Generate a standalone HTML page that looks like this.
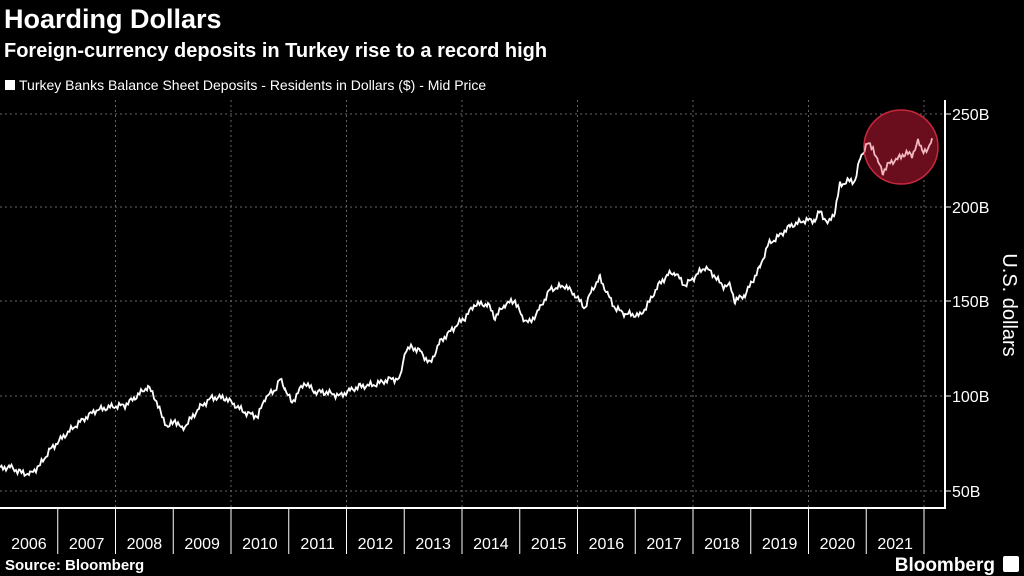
<!DOCTYPE html>
<html><head><meta charset="utf-8"><style>
body{margin:0;background:#000;width:1024px;height:576px;overflow:hidden;font-family:"Liberation Sans",sans-serif;color:#fff}
</style></head><body>
<svg id="s" width="1024" height="576" xmlns="http://www.w3.org/2000/svg" style="position:absolute;left:0;top:0">
<defs><clipPath id="cc"><circle cx="901" cy="147" r="37"/></clipPath></defs>
<text x="4" y="28" font-size="27" font-weight="bold" fill="#fff">Hoarding Dollars</text>
<text x="4" y="57" font-size="20" font-weight="bold" fill="#fff">Foreign-currency deposits in Turkey rise to a record high</text>
<rect x="5" y="80" width="10" height="10" fill="#fff"/>
<text x="19" y="90" font-size="14" fill="#fff">Turkey Banks Balance Sheet Deposits - Residents in Dollars ($) - Mid Price</text>
<g stroke="#666" stroke-width="1" stroke-dasharray="2,3">
<line x1="0" x2="945" y1="114" y2="114"/><line x1="0" x2="945" y1="207" y2="207"/>
<line x1="0" x2="945" y1="301" y2="301"/><line x1="0" x2="945" y1="396" y2="396"/>
<line x1="0" x2="945" y1="491" y2="491"/>
<g id="vg"></g>
</g>
<line x1="945" y1="100" x2="945" y2="508" stroke="#fff" stroke-width="2"/>
<line x1="0" y1="508" x2="946" y2="508" stroke="#fff" stroke-width="2"/>
<g id="tk" stroke="#fff" stroke-width="1"></g>
<g font-size="16" fill="#fff">
<text x="952" y="120">250B</text><text x="952" y="213">200B</text><text x="952" y="307">150B</text><text x="952" y="402">100B</text><text x="952" y="497">50B</text>
</g>
<g id="yl" font-size="16" fill="#fff" text-anchor="middle"></g>
<text transform="translate(1003,305) rotate(90)" font-size="20" fill="#fff" text-anchor="middle">U.S. dollars</text>
<text x="5" y="570" font-size="15" font-weight="bold" fill="#fff">Source: Bloomberg</text>
<text x="995" y="571" font-size="19" font-weight="bold" fill="#fff" text-anchor="end">Bloomberg</text>
<rect x="1003" y="556" width="16" height="16" rx="2" fill="#fff"/>
<polyline id="ln" fill="none" stroke="#fff" stroke-width="1.8"/>
<circle cx="901" cy="147" r="37" fill="#6a0d1c" stroke="#c8283d" stroke-width="1.5"/>
<polyline id="ln2" fill="none" stroke="#f2b8c0" stroke-width="1.8" clip-path="url(#cc)"/>
</svg>
<script>
var W=57.75,vg=document.getElementById('vg'),tk=document.getElementById('tk'),yl=document.getElementById('yl'),ns='http://www.w3.org/2000/svg';
function el(p,t,a){var e=document.createElementNS(ns,t);for(var k in a)e.setAttribute(k,a[k]);p.appendChild(e);return e;}
for(var k=1;k<=16;k++){var x=k*W;el(tk,'line',{x1:x,x2:x,y1:508,y2:554});if(k%2==0)el(vg,'line',{x1:x,x2:x,y1:100,y2:508});}
for(var k=0;k<16;k++){var t=el(yl,'text',{x:k*W+W/2,y:549});t.textContent=2006+k;}
[114,207,301,396,491].forEach(function(y){el(tk,'line',{x1:945,x2:951,y1:y,y2:y});});
var d=[0,62,10,63,20,60,30,59,40,64,50,72,65,80,80,87,95,93,110,95,125,96,135,100,148,106,155,100,162,90,168,84,175,88,182,83,190,88,200,95,212,100,225,100,235,96,245,92,258,90,265,100,275,104,280,110,285,105,292,97,298,103,305,108,315,103,325,103,340,101,350,104,360,106,375,107,390,110,400,110,405,125,412,127,420,125,430,118,440,130,455,138,465,143,475,150,488,150,495,143,505,150,515,152,522,143,530,140,540,148,550,158,565,160,575,155,585,148,592,158,600,164,608,155,615,148,625,145,640,144,648,150,658,160,668,166,675,167,685,160,695,165,705,170,715,165,722,160,730,160,735,152,745,155,752,162,760,170,768,182,780,187,790,192,805,195,815,195,820,200,828,193,835,200,840,214,848,216,855,216,860,228,867,236,873,234,878,226,883,221,890,226,898,228,905,231,912,230,918,237,922,233,928,232,932,239];
var pts=[];
for(var i=0;i<d.length-2;i+=2){var x0=d[i],v0=d[i+1],x1=d[i+2],v1=d[i+3];for(var x=x0;x<x1;x+=1.5){var f=(x-x0)/(x1-x0),v=v0+(v1-v0)*f+1.1*Math.sin(x*1.7)+0.9*Math.sin(x*0.63+1);pts.push(x.toFixed(1)+','+(491-(v-50)*1.8667).toFixed(1));}}
pts.push('932,'+(491-(239-50)*1.8667).toFixed(1));
var P=pts.join(' ');
document.getElementById('ln').setAttribute('points',P);
document.getElementById('ln2').setAttribute('points',P);
</script>
</body></html>
